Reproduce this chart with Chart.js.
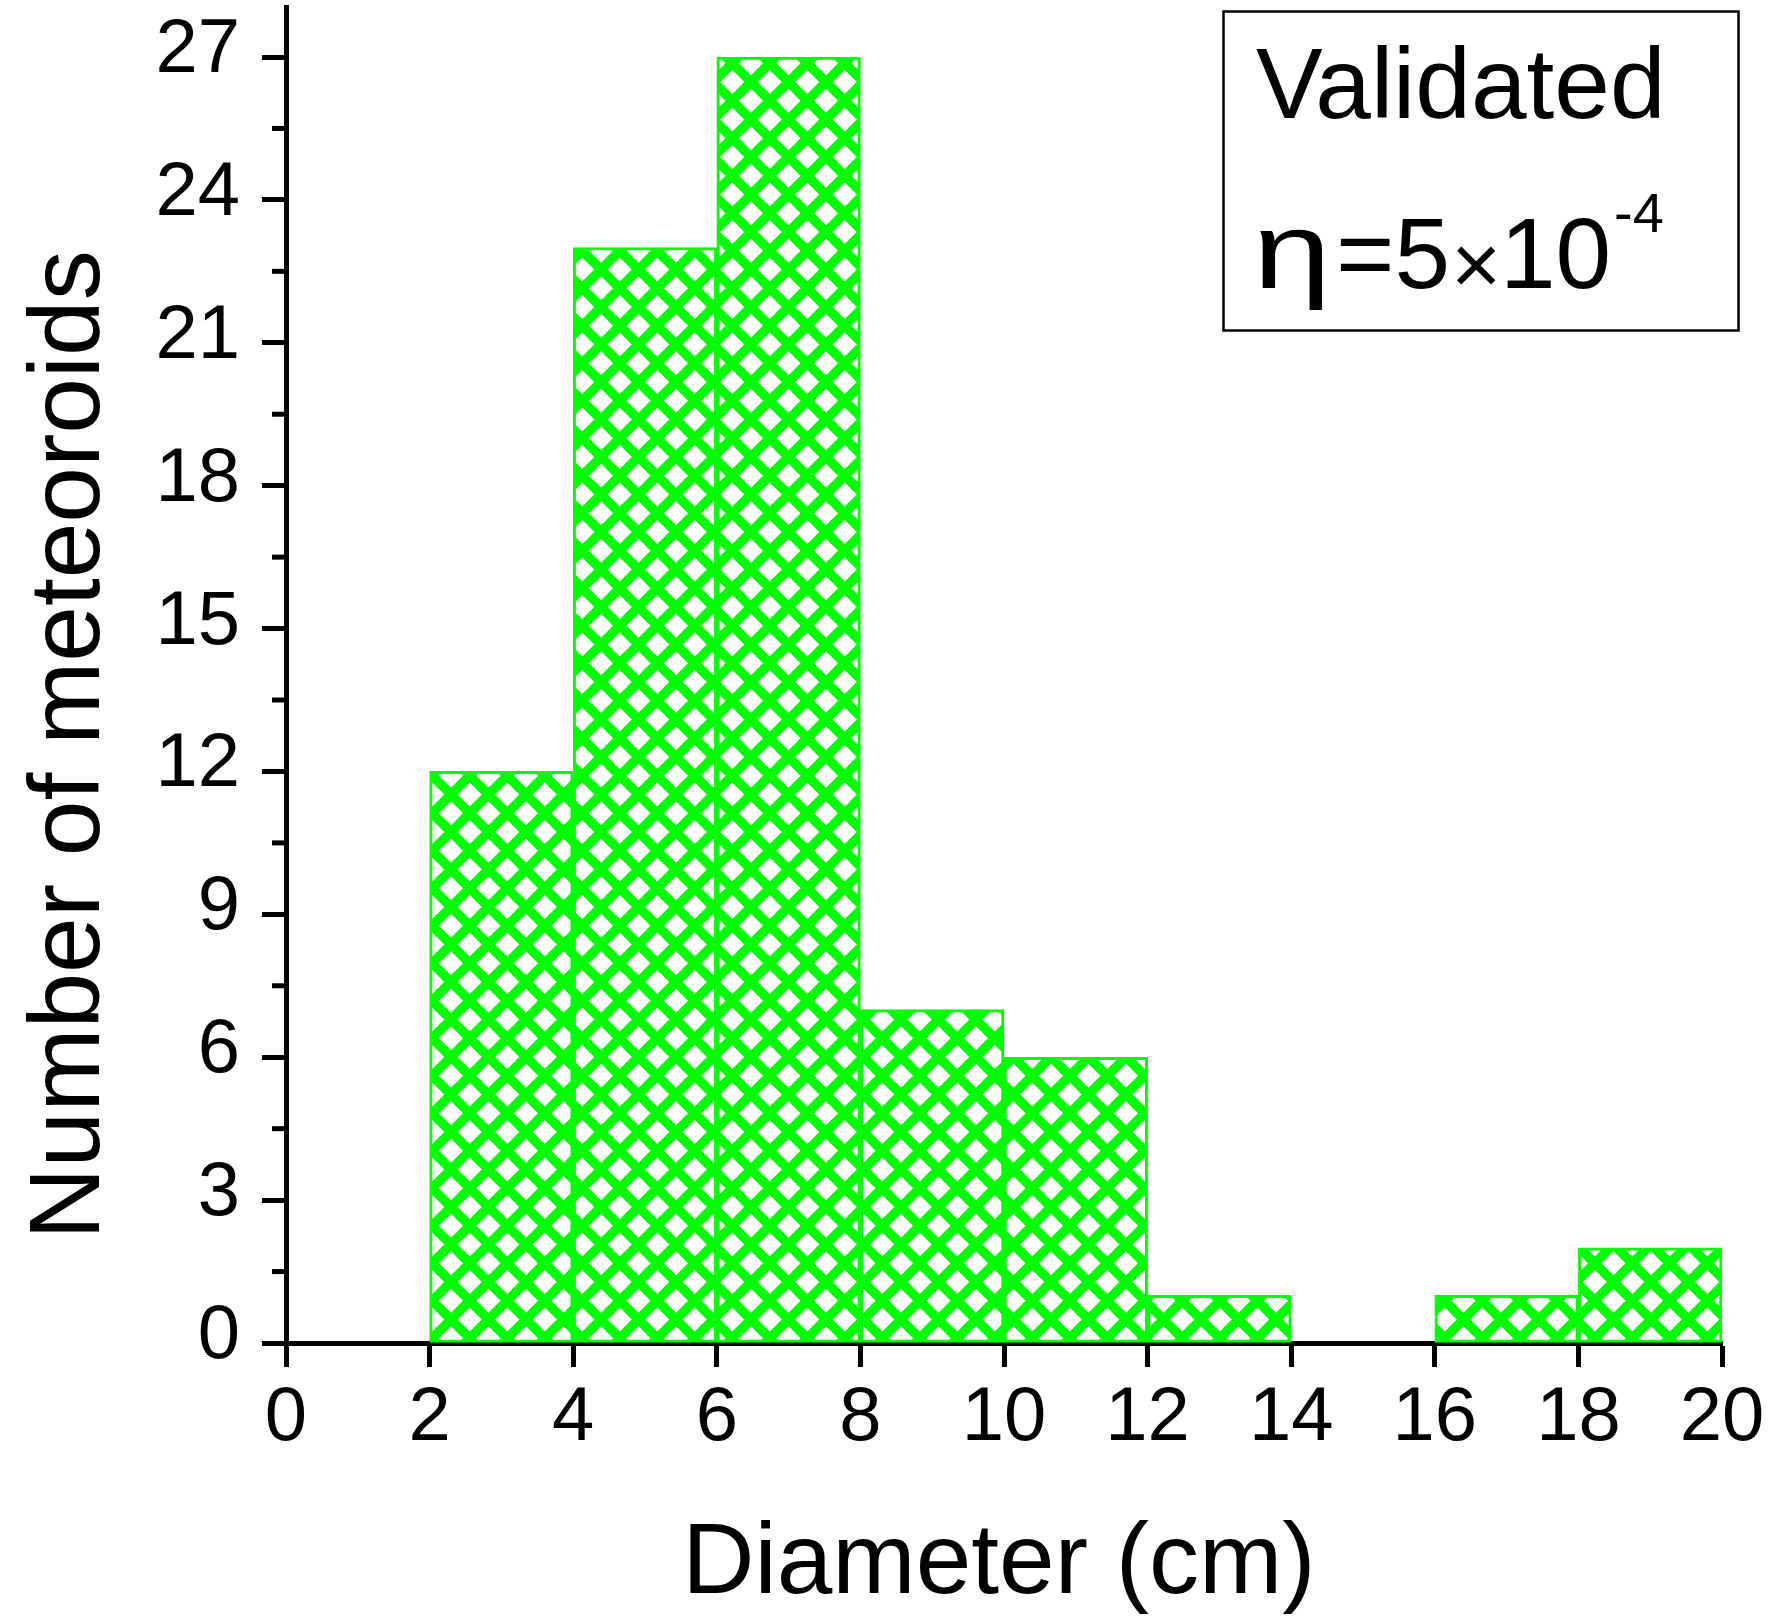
<!DOCTYPE html>
<html lang="en">
<head>
<meta charset="UTF-8">
<title>Meteoroid diameters</title>
<script src="https://cdn.jsdelivr.net/npm/chart.js@4.4.1/dist/chart.umd.min.js"></script>
<style>
  body { margin: 0; background: #fff; }
  canvas { display: block; }
</style>
</head>
<body>
<canvas id="canvas" width="1771" height="1621"></canvas>
<script>
  // histogram: bin start (cm), bin width, number of meteoroids per bin
  const binStarts = [2, 4, 6, 8, 10, 12, 14, 16, 18];
  const binWidth = 2;
  const counts = [12, 23, 27, 7, 6, 1, 0, 1, 2];

  const xTicks = [0, 2, 4, 6, 8, 10, 12, 14, 16, 18, 20];
  const yTicks = [0, 3, 6, 9, 12, 15, 18, 21, 24, 27];
  const yMinorTicks = [1.5, 4.5, 7.5, 10.5, 13.5, 16.5, 19.5, 22.5, 25.5];

  const FONT = '"Liberation Sans", Arial, sans-serif';
  const GREEN = "#00ff00";

  // cross hatch fill, 10 periods per tile so the 37.5px period tiles cleanly
  function makeHatch() {
    const period = 37.5;
    const reps = 10;
    const size = Math.round(period * reps);
    const tile = document.createElement("canvas");
    tile.width = size;
    tile.height = size;
    const g = tile.getContext("2d");
    g.fillStyle = "#fff";
    g.fillRect(0, 0, size, size);
    g.strokeStyle = GREEN;
    g.lineWidth = 9.5;
    g.beginPath();
    for (let k = -reps; k <= 2 * reps; k++) {
      const c = k * period;
      g.moveTo(c - 10, -10);
      g.lineTo(c + size + 10, size + 10);
      g.moveTo(c + 10, -10);
      g.lineTo(c - size - 10, size + 10);
    }
    g.stroke();
    const pattern = g.createPattern(tile, "repeat");
    pattern.setTransform(new DOMMatrix().translate(1, 7));
    return pattern;
  }

  const minorTicks = {
    id: "minorTicks",
    afterDraw(chart) {
      const ctx = chart.ctx;
      const yScale = chart.scales.y;
      const x0 = chart.chartArea.left - 2;
      ctx.save();
      ctx.strokeStyle = "#000";
      ctx.lineWidth = 5;
      yMinorTicks.forEach((v) => {
        const py = yScale.getPixelForValue(v);
        ctx.beginPath();
        ctx.moveTo(x0, py);
        ctx.lineTo(x0 - 12, py);
        ctx.stroke();
      });
      ctx.restore();
    }
  };

  const annotations = {
    id: "annotations",
    afterDraw(chart) {
      const ctx = chart.ctx;
      const area = chart.chartArea;
      ctx.save();
      ctx.fillStyle = "#000";
      ctx.textBaseline = "alphabetic";

      // axis titles
      ctx.font = "100px " + FONT;
      ctx.textAlign = "center";
      ctx.fillText("Diameter (cm)", (area.left + area.right) / 2 - 5, 1593);
      ctx.save();
      ctx.translate(99, 745);
      ctx.rotate(-Math.PI / 2);
      ctx.fillText("Number of meteoroids", 0, 0);
      ctx.restore();

      // label box
      ctx.strokeStyle = "#000";
      ctx.lineWidth = 2.5;
      ctx.strokeRect(1223.5, 11.5, 515, 319);

      ctx.textAlign = "left";
      ctx.font = "100px " + FONT;
      ctx.fillText("Validated", 1256, 118);
      ctx.fillText("=5", 1336, 288);
      ctx.fillText("10", 1500, 288);
      // wide eta, like the symbol-font glyph in the original
      ctx.save();
      ctx.translate(1253, 288);
      ctx.scale(1.3, 1);
      ctx.font = "108px " + FONT;
      ctx.fillText("\u03b7", 0, 0);
      ctx.restore();
      ctx.font = "86px " + FONT;
      ctx.fillText("\u00d7", 1451, 294);
      ctx.font = "56px " + FONT;
      ctx.fillText("-4", 1614, 232);
      ctx.restore();
    }
  };

  const canvas = document.getElementById("canvas");

  new Chart(canvas, {
    type: "bar",
    data: {
      datasets: [{
        data: binStarts.map((start, i) => ({ x: start + binWidth / 2, y: counts[i] })),
        backgroundColor: makeHatch(),
        borderColor: GREEN,
        borderWidth: 3,
        borderSkipped: false,
        barPercentage: 1,
        categoryPercentage: 1
      }]
    },
    options: {
      responsive: false,
      animation: false,
      events: [],
      layout: { padding: { left: 0, top: 7, right: 49, bottom: 0 } },
      plugins: {
        legend: { display: false },
        tooltip: { enabled: false }
      },
      scales: {
        x: {
          type: "linear",
          min: 0,
          max: 20,
          offset: false,
          z: 1,
          afterBuildTicks: (scale) => { scale.ticks = xTicks.map((v) => ({ value: v })); },
          afterFit: (scale) => {
            scale.height = 278;
            scale.paddingLeft = 0;
            scale.paddingRight = 0;
          },
          border: { color: "#000", width: 5 },
          grid: { offset: false, drawOnChartArea: false, tickLength: 24, tickWidth: 5, tickColor: "#000" },
          ticks: {
            color: "#000",
            font: { family: FONT, size: 76 },
            padding: 6,
            maxRotation: 0,
            autoSkip: false
          }
        },
        y: {
          type: "linear",
          min: 0,
          max: 28.05,
          afterBuildTicks: (scale) => { scale.ticks = yTicks.map((v) => ({ value: v })); },
          afterFit: (scale) => {
            scale.width = 286;
            scale.paddingTop = 0;
            scale.paddingBottom = 0;
          },
          border: { color: "#000", width: 5 },
          grid: { drawOnChartArea: false, tickLength: 24, tickWidth: 5, tickColor: "#000" },
          ticks: {
            color: "#000",
            font: { family: FONT, size: 76 },
            padding: 22,
            labelOffset: -6,
            autoSkip: false
          }
        }
      }
    },
    plugins: [minorTicks, annotations]
  });
</script>
</body>
</html>
